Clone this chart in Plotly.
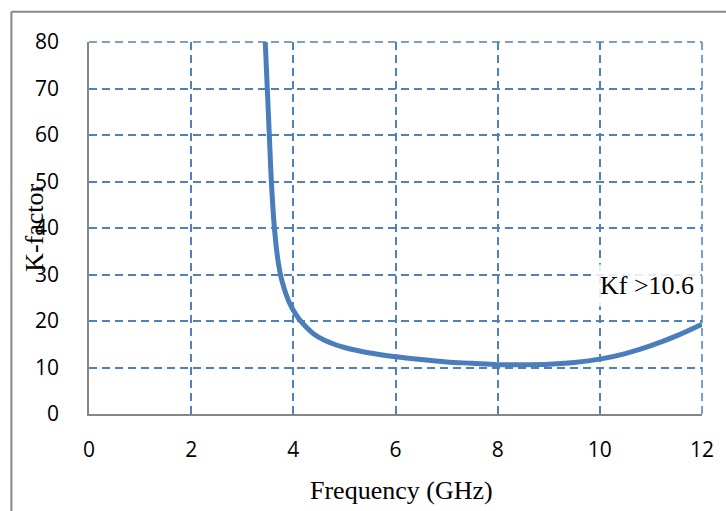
import plotly.graph_objects as go

# K-factor versus frequency
freq_ghz = [3.45, 3.49, 3.53, 3.57, 3.63, 3.70, 3.78, 3.9, 4.0, 4.1, 4.2, 4.4,
            4.6, 4.8, 5.0, 5.5, 6.0, 6.5, 7.0, 7.5, 8.0, 8.5, 9.0, 9.5,
            10.0, 10.5, 11.0, 11.5, 12.0]
k_factor = [80, 70, 60, 50, 40, 33, 28.5, 24.5, 22.3, 20.6, 19.3, 17.2,
            15.9, 15.0, 14.3, 13.1, 12.3, 11.7, 11.2, 10.9, 10.6, 10.6, 10.7, 11.1,
            11.8, 13.0, 14.7, 16.8, 19.3]

x_ticks = [0, 2, 4, 6, 8, 10, 12]
y_ticks = [0, 10, 20, 30, 40, 50, 60, 70, 80]

grid_color = "#4f81bd"
axis_color = "#868686"
frame_color = "#888888"
grid_dash = "8px,5px"

fig = go.Figure()
fig.add_trace(go.Scatter(
    x=freq_ghz, y=k_factor, mode="lines",
    line=dict(color="#4a7ebb", width=5, shape="spline", smoothing=1.0),
    hoverinfo="skip", showlegend=False,
))

axis_common = dict(
    showgrid=True, gridcolor=grid_color, gridwidth=1.5, griddash=grid_dash,
    showline=True, linecolor=axis_color, linewidth=1.5,
    zeroline=False, ticks="",
    tickfont=dict(family="Open Sans", size=21, color="#000000"),
)

fig.update_xaxes(range=[0, 12], tickvals=x_ticks, ticklabelstandoff=16, **axis_common)
fig.update_yaxes(range=[0, 80], tickvals=y_ticks, ticklabelstandoff=24, **axis_common)

shapes = [
    # dashed grid along the top and right edges of the plot area
    dict(type="line", xref="paper", yref="paper", x0=0, x1=1, y0=1, y1=1,
         line=dict(color=grid_color, width=1.5, dash=grid_dash)),
    dict(type="line", xref="paper", yref="paper", x0=1, x1=1, y0=0, y1=1,
         line=dict(color=grid_color, width=1.5, dash=grid_dash)),
    # outer chart frame: left and top edges
    dict(type="line", xref="paper", yref="paper", x0=-0.1266, x1=-0.1266, y0=-0.29, y1=1.081,
         line=dict(color=frame_color, width=2), layer="above"),
    dict(type="line", xref="paper", yref="paper", x0=-0.1266, x1=1.05, y0=1.081, y1=1.081,
         line=dict(color=frame_color, width=2), layer="above"),
]

fig.update_layout(
    width=726, height=511,
    margin=dict(l=89, r=21, t=42, b=97),
    paper_bgcolor="white", plot_bgcolor="white",
    shapes=shapes,
    annotations=[
        dict(text="Frequency (GHz)", xref="paper", yref="paper",
             x=0.51, y=-0.205, xanchor="center", yanchor="middle", showarrow=False,
             font=dict(family="Liberation Serif", size=26, color="#000000")),
        dict(text="K-factor", xref="paper", yref="paper",
             x=-0.09, y=0.5, xanchor="center", yanchor="middle", showarrow=False,
             textangle=-90,
             font=dict(family="Liberation Serif", size=26, color="#000000")),
        dict(text="Kf >10.6", xref="paper", yref="paper",
             x=0.998, y=0.345, xanchor="right", yanchor="middle", showarrow=False,
             bgcolor="rgba(255,255,255,0.85)", borderpad=6,
             font=dict(family="Liberation Serif", size=26, color="#000000")),
    ],
)

fig.write_html("out.html", config={"displayModeBar": False})
